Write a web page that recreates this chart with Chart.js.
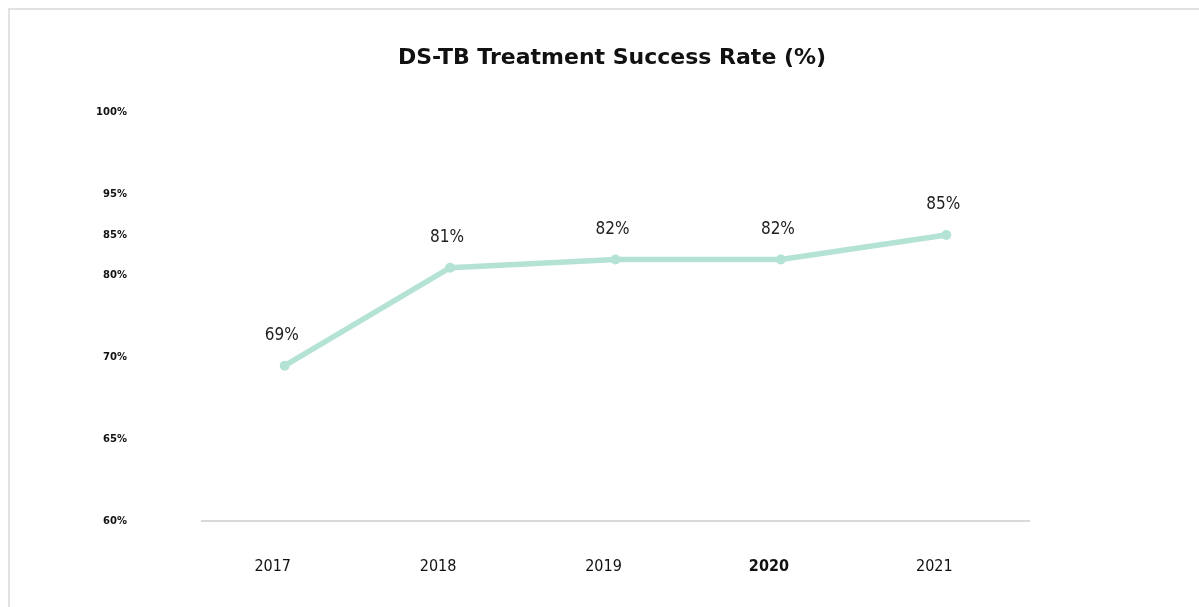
<!DOCTYPE html>
<html>
<head>
<meta charset="utf-8">
<title>DS-TB Treatment Success Rate</title>
<script src="https://cdn.jsdelivr.net/npm/chart.js@4.4.1/dist/chart.umd.min.js"></script>
<style>
    html, body { margin: 0; padding: 0; background: #ffffff; }
    #frame {
        position: absolute;
        left: 8px;
        top: 8px;
        width: 1189px;
        height: 597px;
        border-left: 2px solid #e2e2e2;
        border-top: 2px solid #e2e2e2;
    }
    #chartBox { position: relative; width: 1189px; height: 597px; }
</style>
</head>
<body>
<div id="frame">
    <div id="chartBox"><canvas id="rateChart"></canvas></div>
</div>
<script>
// Chart data
const years = ['2017', '2018', '2019', '2020', '2021'];
const successRates = [69, 81, 82, 82, 85];  // treatment success rate in %
const rateLabels = ['69%', '81%', '82%', '82%', '85%'];

// The source chart puts its y tick labels at these values (the labels do not match the values)
const yTickValues = [100, 90, 85, 80, 70, 60, 50];
const yTickLabels = ['100%', '95%', '85%', '80%', '70%', '65%', '60%'];

const lineColor = '#b4e3d5';
const tickFont = '"Liberation Sans Narrow", "DejaVu Sans Condensed", "Liberation Sans", sans-serif';

// Small inline plugin that writes the value above each point
const pointLabels = {
    id: 'pointLabels',
    afterDatasetsDraw(chart) {
        const ctx = chart.ctx;
        const meta = chart.getDatasetMeta(0);
        ctx.save();
        ctx.font = '17px ' + tickFont;
        ctx.fillStyle = '#222222';
        ctx.textAlign = 'center';
        ctx.textBaseline = 'middle';
        meta.data.forEach((pt, i) => {
            ctx.fillText(rateLabels[i], pt.x - 3, pt.y - 30);
        });
        ctx.restore();
    }
};

const ctx = document.getElementById('rateChart').getContext('2d');
new Chart(ctx, {
    type: 'line',
    data: {
        labels: years,
        datasets: [{
            label: 'Treatment success rate',
            data: successRates,
            borderColor: lineColor,
            backgroundColor: lineColor,
            borderWidth: 5.5,
            pointRadius: 5,
            pointHoverRadius: 5,
            pointBorderWidth: 0,
            tension: 0,
            fill: false
        }]
    },
    options: {
        responsive: true,
        maintainAspectRatio: false,
        animation: false,
        layout: {
            padding: { top: 0, right: 0, bottom: 0, left: 15 }
        },
        plugins: {
            legend: { display: false },
            tooltip: { enabled: false },
            title: {
                display: true,
                text: 'DS-TB Treatment Success Rate (%)',
                color: '#111111',
                font: { family: '"DejaVu Sans", Verdana, sans-serif', size: 22, weight: 'bold' },
                padding: { top: 35, bottom: 41 }
            }
        },
        scales: {
            x: {
                offset: true,
                grid: { display: false, drawTicks: false },
                border: { display: true, color: '#d9d9d9', width: 2 },
                afterFit(scale) {
                    scale.height = 86;
                },
                ticks: {
                    padding: 36,
                    labelOffset: -12,
                    color: '#111111',
                    font: (c) => ({
                        family: tickFont,
                        size: 16,
                        weight: (c.tick && c.tick.label === '2020') ? 'bold' : 'normal'
                    })
                }
            },
            y: {
                min: 50,
                max: 100,
                grid: { display: false, drawTicks: false },
                border: { display: false },
                afterFit(scale) {
                    scale.width = 177;  // leave the wide empty gap left of the plot
                },
                afterBuildTicks(scale) {
                    scale.ticks = yTickValues.map(v => ({ value: v }));
                },
                ticks: {
                    padding: 75,
                    color: '#111111',
                    font: { family: '"DejaVu Sans", sans-serif', size: 10, weight: 'bold' },
                    callback: function (value, index) {
                        return yTickLabels[index];
                    }
                }
            },
            // empty axis on the right, only to keep the plot narrower than the title row
            yRight: {
                position: 'right',
                min: 50,
                max: 100,
                grid: { display: false, drawTicks: false },
                border: { display: false },
                ticks: { display: false },
                afterFit(scale) {
                    scale.width = 170;
                }
            }
        }
    },
    plugins: [pointLabels]
});
</script>
</body>
</html>
